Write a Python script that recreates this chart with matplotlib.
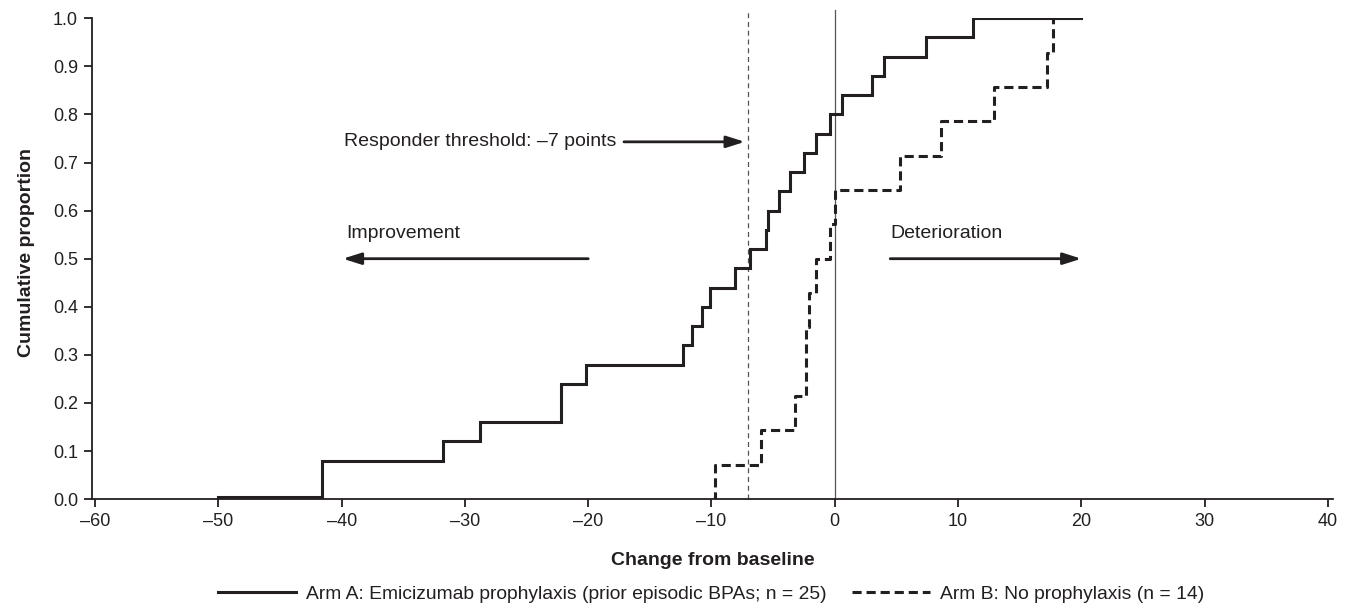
import matplotlib
matplotlib.use("Agg")
import matplotlib.pyplot as plt

plt.rcParams['font.family'] = ['Liberation Sans', 'DejaVu Sans']

# Arm A: Emicizumab prophylaxis (n = 25) - step positions and cumulative proportions
arm_a_x = [-50, -41.6, -31.8, -28.8, -22.2, -20.2, -12.3, -11.6, -10.8, -10.15, -8.1,
           -6.9, -5.6, -5.4, -4.5, -3.6, -2.5, -1.5, -0.4, 0.6, 3.0, 4.0, 7.4, 11.2, 20]
arm_a_y = [0.004, 0.08, 0.12, 0.16, 0.24, 0.28, 0.32, 0.36, 0.40, 0.44, 0.48,
           0.52, 0.56, 0.60, 0.64, 0.68, 0.72, 0.76, 0.80, 0.84, 0.88, 0.92, 0.96, 1.00, 1.00]

# Arm B: No prophylaxis (n = 14)
arm_b_x = [-9.9, -9.75, -5.95, -3.25, -2.3, -2.05, -1.5, -0.4, 0.0, 5.3, 8.6, 12.95, 17.2, 17.7, 19.7]
arm_b_y = [0.0, 0.0714, 0.1429, 0.2143, 0.3571, 0.4286, 0.5, 0.5714, 0.6429, 0.7143,
           0.7857, 0.8571, 0.9286, 1.0, 1.0]

x_ticks = [-60, -50, -40, -30, -20, -10, 0, 10, 20, 30, 40]
x_tick_labels = ['\u201360', '\u201350', '\u201340', '\u201330', '\u201320', '\u201310',
                 '0', '10', '20', '30', '40']
y_ticks = [0.0, 0.1, 0.2, 0.3, 0.4, 0.5, 0.6, 0.7, 0.8, 0.9, 1.0]

label_a = 'Arm A: Emicizumab prophylaxis (prior episodic BPAs; n = 25)'
label_b = 'Arm B: No prophylaxis (n = 14)'
threshold = -7

ink = '#231f20'

fig = plt.figure(figsize=(13.49, 6.08), dpi=100)
ax = fig.add_axes([0.0682, 0.179, 0.9198, 0.791])

ax.plot([threshold, threshold], [0, 1.017], color='#555555', lw=0.9,
        linestyle=(0, (4, 3)), clip_on=False, zorder=1)
ax.plot([0, 0], [0, 1.017], color='#555555', lw=0.9, clip_on=False, zorder=1)

ax.plot(arm_a_x, arm_a_y, drawstyle='steps-post', color=ink, lw=2.2,
        label=label_a, zorder=3, solid_joinstyle='miter')
ax.plot(arm_b_x, arm_b_y, drawstyle='steps-post', color=ink, lw=2.2,
        dashes=(3, 1.6), label=label_b, zorder=3)

ax.set_xlim(-60.25, 40.4)
ax.set_ylim(0, 1.0)
ax.set_xticks(x_ticks)
ax.set_xticklabels(x_tick_labels)
ax.set_yticks(y_ticks)
ax.set_yticklabels([f'{v:.1f}' for v in y_ticks])

for s in ['top', 'right']:
    ax.spines[s].set_visible(False)
for s in ['left', 'bottom']:
    ax.spines[s].set_linewidth(1.3)
    ax.spines[s].set_color(ink)
ax.tick_params(direction='out', length=6, width=1.3, color=ink,
               labelsize=13, labelcolor=ink, pad=4)

ax.set_xlabel('Change from baseline', fontsize=14, fontweight='bold', color=ink, labelpad=16)
ax.set_ylabel('Cumulative proportion', fontsize=14, fontweight='bold', color=ink)
ax.yaxis.set_label_coords(-0.046, 0.513)

arrow_kw = dict(arrowstyle='-|>,head_length=1.1,head_width=0.35', color=ink, lw=2.0,
                shrinkA=0, shrinkB=0)
ax.text(-39.8, 0.743, 'Responder threshold: \u20137 points', fontsize=14, color=ink,
        ha='left', va='center')
ax.annotate('', xy=(-7.3, 0.743), xytext=(-17.1, 0.743), arrowprops=arrow_kw)

ax.text(-39.6, 0.553, 'Improvement', fontsize=14, color=ink, ha='left', va='center')
ax.annotate('', xy=(-39.9, 0.5), xytext=(-20.0, 0.5), arrowprops=arrow_kw)

ax.text(4.5, 0.553, 'Deterioration', fontsize=14, color=ink, ha='left', va='center')
ax.annotate('', xy=(20.0, 0.5), xytext=(4.5, 0.5), arrowprops=arrow_kw)

leg = fig.legend(loc='center', bbox_to_anchor=(0.527, 0.023), ncol=2, frameon=False,
                 fontsize=13.9, handlelength=4.05, columnspacing=1.3, handletextpad=0.52,
                 borderpad=0, borderaxespad=0)
for t in leg.get_texts():
    t.set_color(ink)

fig.savefig('out.png', dpi=100)
